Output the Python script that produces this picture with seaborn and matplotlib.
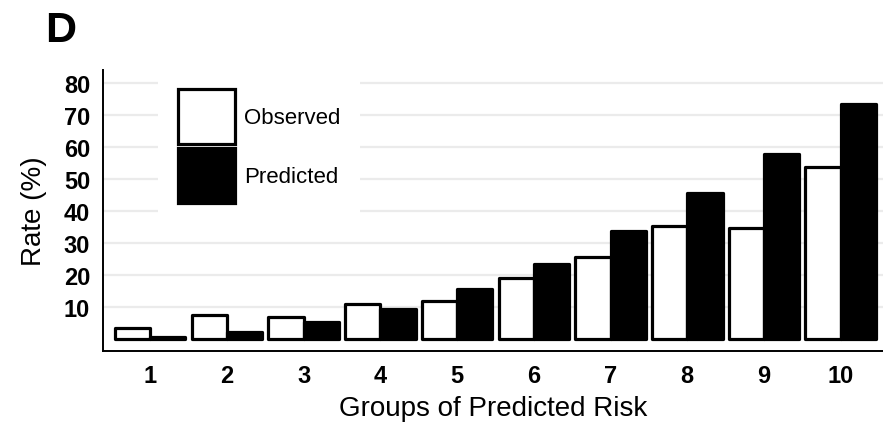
import numpy as np
import pandas as pd
import matplotlib
matplotlib.use("Agg")
import matplotlib.pyplot as plt
import seaborn as sns

# values (rate in %)
groups = ["1", "2", "3", "4", "5", "6", "7", "8", "9", "10"]
observed = [3.3, 7.6, 7.0, 10.9, 12.0, 19.2, 25.7, 35.2, 34.7, 53.9]
predicted = [0.6, 2.3, 5.2, 9.5, 15.6, 23.6, 33.9, 45.7, 57.9, 73.5]
series = ["Observed", "Predicted"]
y_ticks = [10, 20, 30, 40, 50, 60, 70, 80]

df = pd.DataFrame({
    "group": groups * 2,
    "rate": observed + predicted,
    "type": [series[0]] * len(groups) + [series[1]] * len(groups),
})

sns.set_theme(style="white")
plt.rcParams["font.family"] = ["Liberation Sans", "DejaVu Sans"]
plt.rcParams["text.color"] = "black"
plt.rcParams["axes.labelcolor"] = "black"

fig = plt.figure(figsize=(8.83, 4.27), dpi=100)
ax = fig.add_axes([0.117, 0.1763, 0.883, 0.658])

sns.barplot(data=df, x="group", y="rate", hue="type", order=groups,
            hue_order=series, palette={"Observed": "white", "Predicted": "black"},
            edgecolor="black", linewidth=2.3, width=0.92, ax=ax, zorder=3)
for p in ax.patches:
    p.set_joinstyle("round")

# grid lines
ax.set_yticks(y_ticks)
ax.yaxis.grid(True, color="#ebebeb", linewidth=1.6, zorder=0)
ax.xaxis.grid(False)
ax.set_axisbelow(True)

ax.set_xlim(-0.61, 9.55)
ax.set_ylim(-3.66, 84.2)

for s in ["top", "right"]:
    ax.spines[s].set_visible(False)
for s in ["left", "bottom"]:
    ax.spines[s].set_color("black")
    ax.spines[s].set_linewidth(1.4)

ax.tick_params(axis="both", which="major", direction="out", length=4.5,
               width=1.3, color="#333333", labelsize=17, labelcolor="black")
ax.tick_params(axis="y", pad=5)
ax.tick_params(axis="x", pad=5)
for lab in ax.get_xticklabels() + ax.get_yticklabels():
    lab.set_fontweight("bold")

ax.set_xlabel("Groups of Predicted Risk", fontsize=20, labelpad=6)
ax.set_ylabel("Rate (%)", fontsize=20, labelpad=12)

leg = ax.legend(title=None, loc="upper left", bbox_to_anchor=(0.056, 1.043),
                fontsize=16, frameon=True, facecolor="white", edgecolor="none",
                framealpha=1, fancybox=False, handlelength=2.57, handleheight=3.44,
                labelspacing=0.2, handletextpad=0.4, borderpad=0.9)
leg.set_zorder(5)
for t in leg.get_texts():
    t.set_color("black")

fig.text(0.051, 0.9016, "D", fontsize=31, fontweight="bold", va="baseline",
         color="black")

fig.savefig("out.png", dpi=100)
